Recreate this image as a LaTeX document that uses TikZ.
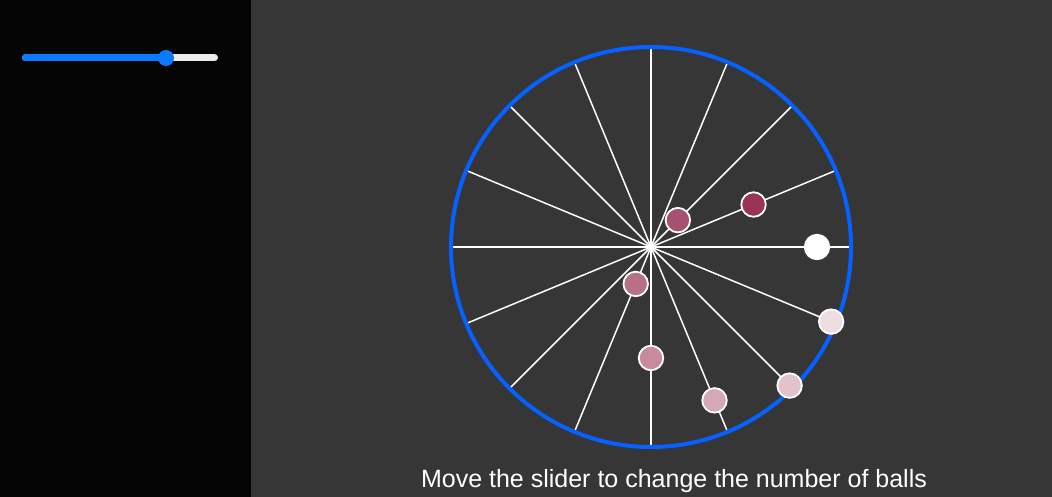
\documentclass[tikz,border=0pt]{standalone}
\usepackage{fontspec}
\setmainfont{Liberation Sans}
\usetikzlibrary{calc}
\definecolor{panel}{HTML}{050505}
\definecolor{bg}{HTML}{363636}
\definecolor{rim}{HTML}{0561FF}
\definecolor{sliderblue}{HTML}{0A7BFF}
\definecolor{track}{HTML}{EBEBEB}
\definecolor{bA}{HTML}{A85070}
\definecolor{bB}{HTML}{9B3358}
\definecolor{bC}{HTML}{B87086}
\definecolor{bD}{HTML}{EEDDE2}
\definecolor{bE}{HTML}{C88A9C}
\definecolor{bF}{HTML}{D4A9B5}
\definecolor{bG}{HTML}{E2C3CC}
\tikzset{
  spoke/.style={draw=white, line width=1.5pt},
  ball/.style={circle, draw=white, line width=1.8pt, minimum size=24.5pt, inner sep=0pt},
}
\begin{document}
\begin{tikzpicture}[x=1pt,y=-1pt]
\useasboundingbox (0,0) rectangle (1052,497);
\fill[bg] (0,0) rectangle (1052,497);
\fill[panel] (0,0) rectangle (251,497);
% slider
\draw[track, line width=7pt, line cap=round] (25.5,58) -- (214.5,58);
\draw[sliderblue, line width=7pt, line cap=round] (25.5,58) -- (166,58);
\node[circle, fill=sliderblue, minimum size=16pt, inner sep=0pt] (knob) at (166,58) {};
% wheel
\coordinate (c) at (651,247);
\foreach \a in {0,22.5,...,157.5}{
  \draw[spoke] ($(c)+(\a:200)$) -- ($(c)+(\a+180:200)$);
}
\draw[rim, line width=4pt] (c) circle (200);
% balls
\node[ball, fill=bA] (b1) at ($(c)+(-45:38)$) {};
\node[ball, fill=bB] (b2) at ($(c)+(-22.5:111)$) {};
\node[ball, fill=white] (b3) at ($(c)+(0:166)$) {};
\node[ball, fill=bC] (b4) at ($(c)+(112.5:40)$) {};
\node[ball, fill=bD] (b5) at ($(c)+(22.5:195)$) {};
\node[ball, fill=bE] (b6) at ($(c)+(90:111)$) {};
\node[ball, fill=bF] (b7) at ($(c)+(67.5:166)$) {};
\node[ball, fill=bG] (b8) at ($(c)+(45:196)$) {};
\node[text=white, font=\fontsize{25}{30}\selectfont, anchor=base] (cap) at (674,487) {Move the slider to change the number of balls};
\end{tikzpicture}
\end{document}
